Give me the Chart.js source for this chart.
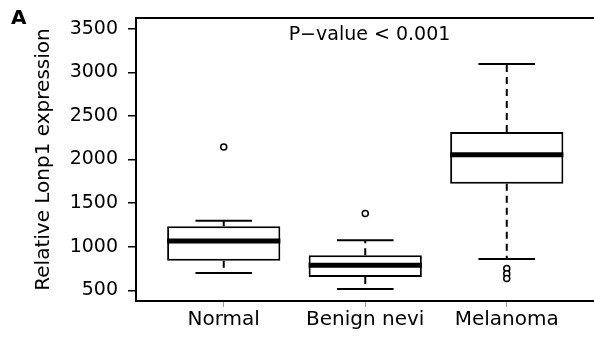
<!DOCTYPE html>
<html>
<head>
<meta charset="utf-8">
<script src="https://cdn.jsdelivr.net/npm/chart.js@4/dist/chart.umd.min.js"></script>
<style>
  html, body { margin: 0; padding: 0; background: #fff; overflow: hidden; }
  #wrap { width: 594px; height: 337px; overflow: hidden; }
</style>
</head>
<body>
<div id="wrap"><canvas id="box-chart" width="600" height="337"></canvas></div>
<script>
// values
const groups = ['Normal', 'Benign nevi', 'Melanoma'];
const whiskerLow = [698, 515, 859];
const q1 = [840, 653, 1723];
const medians = [1065, 787, 2056];
const q3 = [1234, 901, 2315];
const whiskerHigh = [1299, 1073, 3095];
const outliers = [[2143], [1380], [749, 691, 634]];
const yTicks = [500, 1000, 1500, 2000, 2500, 3000, 3500];

const boxWidth = 0.8;
const capWidth = 0.4;

Chart.defaults.font.family = "'DejaVu Sans', sans-serif";
Chart.defaults.color = '#000';

const positions = groups.map((g, i) => i + 1);

const boxData = positions.map((x, i) => ({ x: x, y: [q1[i], q3[i]] }));

const lineDatasets = [];
positions.forEach((x, i) => {
    // whiskers
    lineDatasets.push({
        type: 'line', data: [{ x: x, y: q3[i] }, { x: x, y: whiskerHigh[i] }],
        borderColor: '#000', borderWidth: 2, borderDash: [7, 5], pointRadius: 0, order: 3
    });
    lineDatasets.push({
        type: 'line', data: [{ x: x, y: q1[i] }, { x: x, y: whiskerLow[i] }],
        borderColor: '#000', borderWidth: 2, borderDash: [7, 5], pointRadius: 0, order: 3
    });
    // caps
    [whiskerHigh[i], whiskerLow[i]].forEach(v => {
        lineDatasets.push({
            type: 'line', data: [{ x: x - capWidth / 2, y: v }, { x: x + capWidth / 2, y: v }],
            borderColor: '#000', borderWidth: 2, pointRadius: 0, order: 3
        });
    });
    // median
    lineDatasets.push({
        type: 'line', data: [{ x: x - boxWidth / 2, y: medians[i] }, { x: x + boxWidth / 2, y: medians[i] }],
        borderColor: '#000', borderWidth: 5, borderCapStyle: 'butt', pointRadius: 0, order: 0
    });
});

const outlierData = [];
outliers.forEach((list, i) => list.forEach(v => outlierData.push({ x: positions[i], y: v })));

// plot frame (right side runs off the picture), p-value note and panel letter
const framePlugin = {
    id: 'frame',
    afterDraw(chart) {
        const { ctx, chartArea, scales } = chart;
        ctx.save();
        ctx.strokeStyle = '#000';
        ctx.lineWidth = 2;
        ctx.beginPath();
        ctx.moveTo(chart.width, chartArea.top);
        ctx.lineTo(chartArea.left, chartArea.top);
        ctx.lineTo(chartArea.left, chartArea.bottom);
        ctx.lineTo(chart.width, chartArea.bottom);
        ctx.stroke();

        ctx.fillStyle = '#000';
        ctx.font = "19px 'DejaVu Sans'";
        ctx.textAlign = 'center';
        ctx.textBaseline = 'middle';
        ctx.fillText('P\u2212value < 0.001', scales.x.getPixelForValue(2.03), scales.y.getPixelForValue(3425));

        ctx.font = "bold 20px 'DejaVu Sans'";
        ctx.textAlign = 'left';
        ctx.textBaseline = 'top';
        ctx.fillText('A', 11, 9);
        ctx.restore();
    }
};

const ctx = document.getElementById('box-chart').getContext('2d');
new Chart(ctx, {
    type: 'bar',
    data: {
        datasets: [
            {
                type: 'bar',
                data: boxData,
                backgroundColor: '#fff',
                borderColor: '#000',
                borderWidth: 2,
                borderSkipped: false,
                barPercentage: boxWidth,
                categoryPercentage: 1,
                order: 2
            },
            ...lineDatasets,
            {
                type: 'line',
                data: outlierData,
                showLine: false,
                pointStyle: 'circle',
                pointRadius: 3,
                pointBorderWidth: 1.5,
                pointBorderColor: '#000',
                pointBackgroundColor: '#fff',
                order: 0
            }
        ]
    },
    options: {
        responsive: false,
        animation: false,
        layout: { padding: { left: 0, top: 18, right: 2.5, bottom: 0 } },
        plugins: {
            legend: { display: false },
            tooltip: { enabled: false }
        },
        scales: {
            x: {
                type: 'linear',
                min: 0.38,
                max: 3.62,
                offset: false,
                afterBuildTicks: scale => { scale.ticks = positions.map(v => ({ value: v })); },
                afterFit: scale => {
                    scale.height = 36;
                    scale.paddingLeft = 0;
                    scale.paddingRight = 0;
                },
                ticks: {
                    callback: v => groups[v - 1],
                    font: { size: 20 },
                    padding: 1,
                    maxRotation: 0,
                    autoSkip: false
                },
                grid: { offset: false, drawOnChartArea: false, tickLength: 6, color: '#999', lineWidth: 1 },
                border: { display: false }
            },
            y: {
                min: 377,
                max: 3624,
                afterBuildTicks: scale => { scale.ticks = yTicks.map(v => ({ value: v })); },
                afterFit: scale => {
                    scale.width = 136;
                    scale.paddingTop = 0;
                    scale.paddingBottom = 0;
                },
                ticks: { font: { size: 19 }, padding: 10, callback: v => String(v) },
                grid: { drawOnChartArea: false, tickLength: 8, color: '#000', lineWidth: 1.5 },
                border: { display: false },
                title: {
                    display: true,
                    text: 'Relative Lonp1 expression',
                    font: { size: 20 },
                    padding: { top: 32, bottom: 0 }
                }
            }
        }
    },
    plugins: [framePlugin]
});
</script>
</body>
</html>
